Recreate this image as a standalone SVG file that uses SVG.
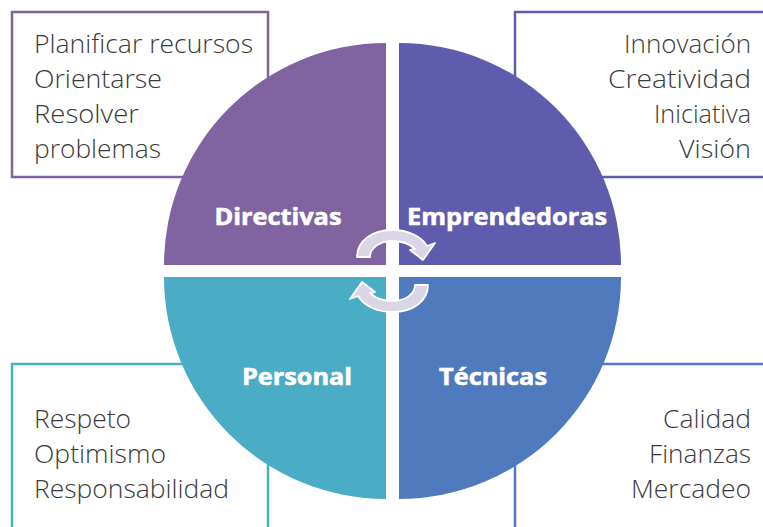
<svg xmlns="http://www.w3.org/2000/svg" width="763" height="527" viewBox="0 0 763 527">
<style>
.box{fill:#ffffff;stroke-width:2.5}
.item{font-family:"Open Sans","Liberation Sans",sans-serif;font-weight:300;font-size:26px;fill:#3a3a3a}
.r{text-anchor:end}
.lbl{font-family:"Open Sans","Noto Sans","Liberation Sans",sans-serif;font-weight:700;font-size:23.5px;fill:#ffffff;stroke:#ffffff;stroke-width:0.6;text-anchor:middle}
.cyc{fill:#dad6e6;stroke:#ffffff;stroke-width:1.8;stroke-linejoin:round}
</style>
<rect width="763" height="527" fill="#ffffff"/>
<g id="box-directivas">
<rect class="box" x="12" y="12" width="256" height="165" stroke="#8064a2"/>
<text class="item" x="34" y="53" textLength="219" lengthAdjust="spacingAndGlyphs">Planificar recursos</text>
<text class="item" x="34" y="88" textLength="128" lengthAdjust="spacingAndGlyphs">Orientarse</text>
<text class="item" x="34" y="123" textLength="105" lengthAdjust="spacingAndGlyphs">Resolver</text>
<text class="item" x="34" y="158" textLength="127" lengthAdjust="spacingAndGlyphs">problemas</text>
</g>
<g id="box-emprendedoras">
<rect class="box" x="515" y="12" width="270" height="165" stroke="#5f5bad"/>
<text class="item r" x="751" y="53" textLength="127" lengthAdjust="spacingAndGlyphs">Innovación</text>
<text class="item r" x="751" y="88" textLength="143" lengthAdjust="spacingAndGlyphs">Creatividad</text>
<text class="item r" x="751" y="123" textLength="97" lengthAdjust="spacingAndGlyphs">Iniciativa</text>
<text class="item r" x="751" y="158" textLength="72" lengthAdjust="spacingAndGlyphs">Visión</text>
</g>
<g id="box-personal">
<rect class="box" x="12" y="364" width="256" height="200" stroke="#4bacc6"/>
<text class="item" x="34" y="428" textLength="97" lengthAdjust="spacingAndGlyphs">Respeto</text>
<text class="item" x="34" y="463" textLength="132" lengthAdjust="spacingAndGlyphs">Optimismo</text>
<text class="item" x="34" y="498" textLength="195" lengthAdjust="spacingAndGlyphs">Responsabilidad</text>
</g>
<g id="box-tecnicas">
<rect class="box" x="515" y="364" width="270" height="200" stroke="#4f7bbe"/>
<text class="item r" x="751" y="428" textLength="88" lengthAdjust="spacingAndGlyphs">Calidad</text>
<text class="item r" x="751" y="463" textLength="102" lengthAdjust="spacingAndGlyphs">Finanzas</text>
<text class="item r" x="751" y="498" textLength="120" lengthAdjust="spacingAndGlyphs">Mercadeo</text>
</g>
<g id="directivas">
<path d="M386,265 L164,265 A222,222 0 0 1 386,43 Z" fill="#8064a2"/>
<text class="lbl" x="278" y="225" textLength="127" lengthAdjust="spacingAndGlyphs">Directivas</text>
</g>
<g id="emprendedoras">
<path d="M399,265 L399,43 A222,222 0 0 1 621,265 Z" fill="#5f5bad"/>
<text class="lbl" x="507" y="225" textLength="200" lengthAdjust="spacingAndGlyphs">Emprendedoras</text>
</g>
<g id="personal">
<path d="M386,277 L386,499 A222,222 0 0 1 164,277 Z" fill="#4bacc6"/>
<text class="lbl" x="297" y="385" textLength="110" lengthAdjust="spacingAndGlyphs">Personal</text>
</g>
<g id="tecnicas">
<path d="M399,277 L621,277 A222,222 0 0 1 399,499 Z" fill="#4f7bbe"/>
<text class="lbl" x="493" y="385" textLength="108" lengthAdjust="spacingAndGlyphs">Técnicas</text>
</g>
<g id="connectors">
<path id="cycle-top" class="cyc" d="M357,257 C357,241 372,230 392,230 C408,230 421,236 427,246 L435,243 L423,260 L410,250 L415,249 C410,244 401,241 392,241 C380,241 370,248 370,257 Z"/>
<path id="cycle-bottom" class="cyc" transform="rotate(180 392.5 271)" d="M357,257 C357,241 372,230 392,230 C408,230 421,236 427,246 L435,243 L423,260 L410,250 L415,249 C410,244 401,241 392,241 C380,241 370,248 370,257 Z"/>
</g>
</svg>
